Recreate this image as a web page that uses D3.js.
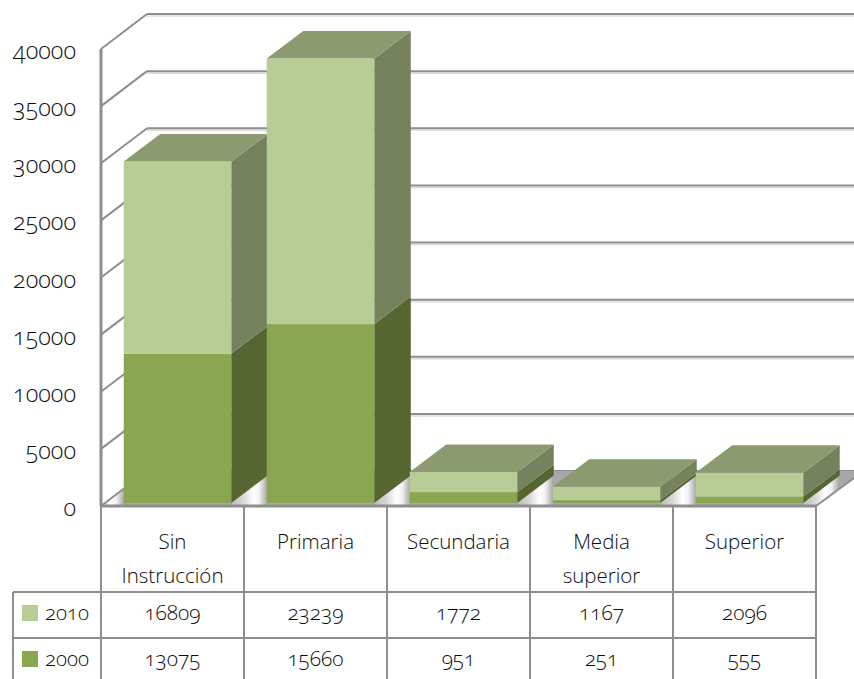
<!DOCTYPE html>
<html><head><meta charset="utf-8">
<script src="https://cdn.jsdelivr.net/npm/d3@7"></script>
<style>
html,body{margin:0;padding:0;background:#fff}
svg{display:block}
text{font-family:"Open Sans",Lato,sans-serif;font-weight:300;font-feature-settings:"onum" 1,"lnum" 0;font-variant-numeric:oldstyle-nums;fill:#0c0c0c;font-size:20.5px}
text.tick{font-size:23.5px}
text.num{font-size:21px}
text.leg{font-size:20.5px}
</style></head><body>
<svg id="c" width="854" height="679"></svg>
<script>
const categories=[["Sin","Instrucción"],["Primaria"],["Secundaria"],["Media","superior"],["Superior"]];
const values2000=[13075,15660,951,251,555];
const values2010=[16809,23239,1772,1167,2096];
const yTicks=[0,5000,10000,15000,20000,25000,30000,35000,40000];
const seriesNames=["2010","2000"];

const W=854,H=679,svg=d3.select("#c");
const left=101,right=816,floorY=506,topY=49;
const depth={x:46,y:-35},barShift={x:5,y:-3},barDepth={x:36.5,y:-27.5};
const gridCol="#8e8e8e";
const idx=categories.map((d,i)=>i);
const yAxis=d3.scaleLinear().domain([0,40000]).range([floorY,topY]);
const xCell=d3.scaleBand().domain(idx).range([left,right]);
const xBar=d3.scaleBand().domain(idx).range([left+barShift.x,right+barShift.x]).paddingInner(.248).paddingOuter(.124);
const yBar=v=>yAxis(v)+barShift.y;

const defs=svg.append("defs");
const g=defs.append("linearGradient").attr("id","floor").attr("gradientUnits","userSpaceOnUse")
 .attr("x1",232).attr("y1",0).attr("x2",375).attr("y2",0).attr("spreadMethod","repeat");
[[0,"#bcbcbc"],[.08,"#d8d8d8"],[.15,"#ffffff"],[.19,"#f2f2f2"],[.245,"#a8a8a8"],[1,"#a8a8a8"]].forEach(([o,c])=>g.append("stop").attr("offset",o).attr("stop-color",c));

// back wall gridlines with soft shadow
const grid=svg.append("g");
grid.selectAll("line.s").data(yTicks.slice(1)).join("line").attr("class","s")
 .attr("x1",left+depth.x).attr("x2",W).attr("y1",d=>yAxis(d)+depth.y+2).attr("y2",d=>yAxis(d)+depth.y+2)
 .attr("stroke","#dcdcdc").attr("stroke-width",1.5);
grid.selectAll("line.g").data(yTicks.slice(1)).join("line").attr("class","g")
 .attr("x1",left+depth.x).attr("x2",W).attr("y1",d=>yAxis(d)+depth.y).attr("y2",d=>yAxis(d)+depth.y)
 .attr("stroke",gridCol).attr("stroke-width",2);
// floor
const ln=d3.line();
svg.append("path").attr("d",ln([[left,floorY],[left+depth.x,floorY+depth.y],[W,floorY+depth.y],[W,floorY+depth.y*.8],[right,floorY]])+"Z").attr("fill","url(#floor)");
grid.append("line").attr("x1",left+depth.x).attr("x2",W).attr("y1",floorY+depth.y).attr("y2",floorY+depth.y).attr("stroke",gridCol).attr("stroke-width",2);
svg.append("line").attr("x1",right).attr("y1",floorY).attr("x2",W).attr("y2",floorY+depth.y*.8).attr("stroke",gridCol).attr("stroke-width",2);
// side diagonals & axis
svg.append("g").selectAll("line").data(yTicks).join("line")
 .attr("x1",left).attr("y1",d=>yAxis(d)).attr("x2",left+depth.x).attr("y2",d=>yAxis(d)+depth.y)
 .attr("stroke",gridCol).attr("stroke-width",2);
svg.append("line").attr("x1",left).attr("x2",left).attr("y1",topY).attr("y2",floorY).attr("stroke",gridCol).attr("stroke-width",3);
svg.append("g").selectAll("text").data(yTicks).join("text").attr("class","tick")
 .attr("x",76).attr("y",d=>yAxis(d)+10).attr("text-anchor","end").text(d=>d);

// bars
const seriesDraw=[
 {lo:i=>0,hi:i=>values2000[i],front:"#8aa650",side:"#566630",top:"#566630"},
 {lo:i=>values2000[i],hi:i=>values2000[i]+values2010[i],front:"#b8cd95",side:"#76825d",top:"#8c9a70"}
];
const bars=svg.append("g");
idx.forEach(i=>{
 const x0=xBar(i),x1=x0+xBar.bandwidth(),dx=barDepth.x,dy=barDepth.y;
 seriesDraw.forEach(s=>{
  const y0=yBar(s.lo(i)),y1=yBar(s.hi(i));
  bars.append("path").attr("d",ln([[x1,y0],[x1+dx,y0+dy],[x1+dx,y1+dy],[x1,y1]])+"Z").attr("fill",s.side);
  bars.append("rect").attr("x",x0).attr("y",y1).attr("width",x1-x0).attr("height",y0-y1).attr("fill",s.front);
 });
 const s=seriesDraw[1],yt=yBar(s.hi(i));
 bars.append("path").attr("d",ln([[x0,yt],[x0+dx,yt+dy],[x1+dx,yt+dy],[x1,yt]])+"Z").attr("fill",s.top);
});

// data table
const rows=[floorY,592,638];
const t=svg.append("g");
t.selectAll("line.h").data(rows).join("line").attr("class","h")
 .attr("x1",(d,i)=>i?13:left-1).attr("x2",right+1).attr("y1",d=>d).attr("y2",d=>d)
 .attr("stroke",gridCol).attr("stroke-width",d=>d===floorY?3:2);
t.selectAll("line.v").data(idx.map(i=>xCell(i)).concat(right)).join("line").attr("class","v")
 .attr("x1",d=>d).attr("x2",d=>d).attr("y1",floorY).attr("y2",H).attr("stroke",gridCol).attr("stroke-width",2);
t.append("line").attr("x1",13).attr("x2",13).attr("y1",592).attr("y2",H).attr("stroke",gridCol).attr("stroke-width",2);
const cx=i=>xCell(i)+xCell.bandwidth()/2;
categories.forEach((c,i)=>c.forEach((l,k)=>t.append("text").attr("x",cx(i)).attr("y",549+k*34).attr("text-anchor","middle").text(l)));
[[values2010,"#b8cd95",seriesNames[0],592],[values2000,"#8aa650",seriesNames[1],638]].forEach(([vals,col,name,y])=>{
 t.append("rect").attr("x",22).attr("y",y+13).attr("width",16).attr("height",16).attr("fill",col);
 t.append("text").attr("class","leg").attr("x",45).attr("y",y+28).text(name);
 vals.forEach((v,i)=>t.append("text").attr("class","num").attr("x",cx(i)).attr("y",y+28).attr("text-anchor","middle").text(v));
});
</script></body></html>
